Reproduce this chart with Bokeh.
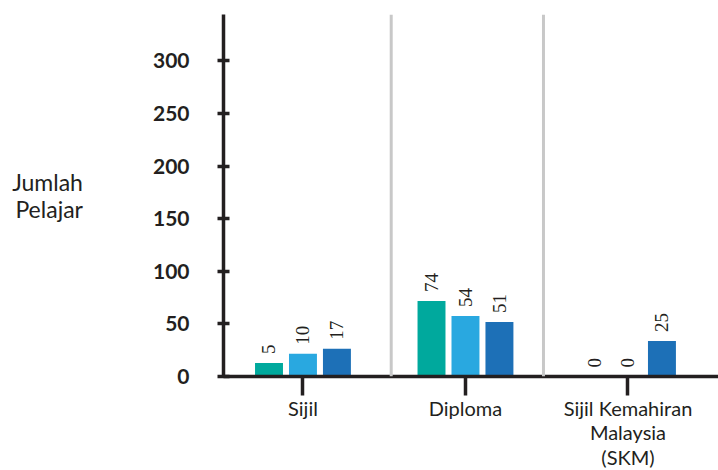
import math
from bokeh.plotting import figure
from bokeh.models import Range1d, Span, ColumnDataSource, LabelSet, FixedTicker
from bokeh.embed import file_html
from bokeh.resources import INLINE

# ---- data ----
categories = ["Sijil", "Diploma", "Sijil Kemahiran\nMalaysia\n(SKM)"]
# drawn bar heights (in axis units) and printed label values
series_a_height = [12.8, 71.8, 0]
series_a_label = ["5", "74", "0"]
series_b_height = [21.7, 57.5, 0]
series_b_label = ["10", "54", "0"]
series_c_height = [26.4, 51.8, 33.7]
series_c_label = ["17", "51", "25"]
y_ticks = [0, 50, 100, 150, 200, 250, 300]
y_axis_title = "Jumlah\nPelajar"

colors = ["#00A99D", "#29A8E0", "#1D70B7"]
dark = "#231F20"
FONT = "Lato"

cat_x = list(range(len(categories)))
X0, X1 = -0.489, 2.557

p = figure(
    frame_width=495, frame_height=362,
    x_range=Range1d(X0, X1),
    y_range=Range1d(0, 344),
    output_backend="svg", toolbar_location=None,
    min_border_left=223, min_border_top=14, min_border_right=0, min_border_bottom=0,
)
p.outline_line_color = None
p.grid.grid_line_color = None
p.background_fill_color = "white"
p.border_fill_color = "white"

# separators between categories
for xs in [0.543, 1.48]:
    p.add_layout(Span(location=xs, dimension="height", line_color="#C8C8C8", line_width=3))

offsets = [-0.209, 0.0, 0.209]
heights = [series_a_height, series_b_height, series_c_height]
labels = [series_a_label, series_b_label, series_c_label]
for off, h, lab, col in zip(offsets, heights, labels, colors):
    src = ColumnDataSource(dict(x=[c + off for c in cat_x], h=h, lab=lab))
    p.vbar(x="x", top="h", width=0.172, source=src, fill_color=col, line_color=None)
    p.add_layout(LabelSet(x="x", y="h", text="lab", source=src,
                          angle=math.pi / 2, y_offset=9,
                          text_align="left", text_baseline="middle",
                          text_font=FONT, text_font_size="19px", text_color=dark))

# y axis
ya = p.yaxis[0]
ya.ticker = FixedTicker(ticks=y_ticks)
ya.axis_line_color = dark
ya.axis_line_width = 3.5
ya.major_tick_line_color = dark
ya.major_tick_line_width = 3.5
ya.major_tick_in = 6
ya.major_tick_out = 6
ya.minor_tick_line_color = None
ya.major_label_text_font = FONT
ya.major_label_text_font_style = "bold"
ya.major_label_text_font_size = "21px"
ya.major_label_text_color = dark
ya.major_label_standoff = 28
ya.axis_label = y_axis_title
ya.axis_label_orientation = "horizontal"
ya.axis_label_text_font = FONT
ya.axis_label_text_font_style = "normal"
ya.axis_label_text_font_size = "23px"
ya.axis_label_text_line_height = 0.95
ya.axis_label_text_color = dark
ya.axis_label_standoff = 67

# x axis
xa = p.xaxis[0]
xa.ticker = FixedTicker(ticks=cat_x)
xa.major_label_overrides = {i: c for i, c in zip(cat_x, categories)}
xa.minor_tick_line_color = None
xa.axis_line_color = dark
xa.axis_line_width = 3.5
xa.major_tick_line_color = dark
xa.major_tick_line_width = 3.5
xa.major_tick_in = 0
xa.major_tick_out = 19
xa.major_label_standoff = 0
xa.major_label_text_font = FONT
xa.major_label_text_font_size = "20px"
xa.major_label_text_line_height = 1.04
xa.major_label_text_color = dark
xa.major_label_orientation = "horizontal"

open("out.html", "w").write(file_html(p, INLINE))
